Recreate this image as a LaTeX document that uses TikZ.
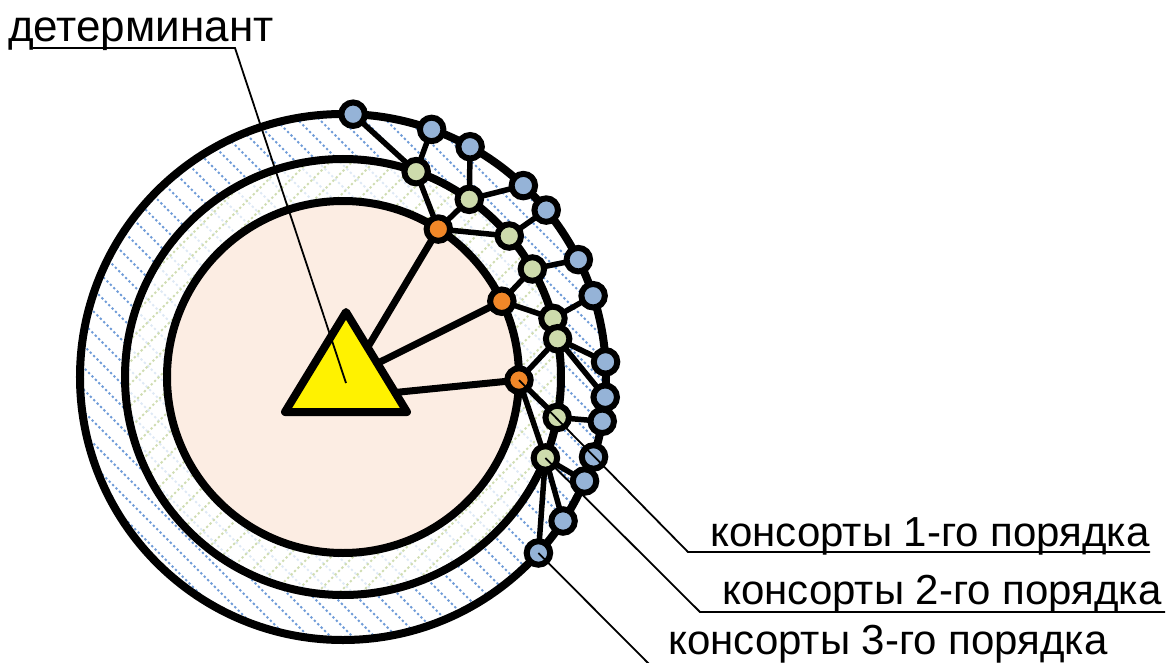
\documentclass[tikz,border=0pt]{standalone}
\usepackage{fontspec}
\setmainfont{Liberation Sans}
\definecolor{bluenode}{RGB}{149,179,215}
\definecolor{greennode}{RGB}{205,219,172}
\definecolor{orangenode}{RGB}{241,135,40}
\definecolor{peach}{RGB}{252,237,227}
\definecolor{hatchblue}{RGB}{110,155,216}
\definecolor{paleblue}{RGB}{222,233,246}
\definecolor{hatchgreen}{RGB}{208,221,178}
\pgfdeclarelayer{back}\pgfdeclarelayer{edges}\pgfdeclarelayer{front}
\pgfsetlayers{back,edges,main,front}
\tikzset{
 cons/.style={circle, draw=black, line width=6pt, minimum size=23.5pt, inner sep=0pt},
 c1/.style={cons, fill=orangenode},
 c2/.style={cons, fill=greennode},
 c3/.style={cons, fill=bluenode},
 link/.style={line width=5.5pt},
 stem/.style={line width=7pt},
 ring/.style={line width=8pt},
 leader/.style={line width=1.8pt},
 lbl/.style={font=\fontsize{42}{50}\selectfont, inner sep=0pt, anchor=base west},
 hatch/.style={line width=2pt, dash pattern=on 2.2pt off 2.6pt},
}
\begin{document}
\begin{tikzpicture}[x=1pt,y=1pt]
\useasboundingbox (-343,-285) rectangle (825,377);

% rings
\begin{pgfonlayer}{back}
 \fill[white] (-343,-285) rectangle (825,377);
 \begin{scope}
  \clip (0,0) circle (263);
  \fill[white] (0,0) circle (263);
  \foreach \k in {-580,-558,...,580} \draw[hatch, hatchblue] (\k-300,300) -- (\k+300,-300);
 \end{scope}
 \fill[white] (0,0) circle (218);
 \begin{scope}
  \clip (0,0) circle (218);
  \foreach \k in {-580,-558,...,580} \draw[hatch, paleblue] (\k-300,300) -- (\k+300,-300);
  \foreach \k in {-580,-558,...,580} \draw[hatch, hatchgreen] (\k-300,-300) -- (\k+300,300);
 \end{scope}
 \fill[peach] (0,0) circle (176);
 \draw[ring] (0,0) circle (263) (0,0) circle (218) (0,0) circle (176);
\end{pgfonlayer}

% determinant triangle
\coordinate (t1) at (3,65);
\coordinate (t2) at (-58,-35);
\coordinate (t3) at (64,-35);
\coordinate (det) at (7,0);
\coordinate (detlow) at (7,-20);
\draw[line width=8pt, line join=round, fill=yellow] (t1) -- (t2) -- (t3) -- cycle;

% consorts of 1st order
\node[c1] (o1) at (57.2:176) {};
\node[c1] (o2) at (25.5:176) {};
\node[c1] (o3) at (-1.0:176) {};
% consorts of 2nd order
\node[c2] (g1) at (70.4:218) {};
\node[c2] (g2) at (54.6:218) {};
\node[c2] (g3) at (40.3:218) {};
\node[c2] (g4) at (29.7:218) {};
\node[c2] (g5) at (15.6:218) {};
\node[c2] (g6) at (10.1:218) {};
\node[c2] (g7) at (-10.7:218) {};
\node[c2] (g8) at (-21.8:218) {};
% consorts of 3rd order
\node[c3] (b1) at (87.8:263) {};
\node[c3] (b2) at (70.3:263) {};
\node[c3] (b3) at (61.1:263) {};
\node[c3] (b4) at (46.7:263) {};
\node[c3] (b5) at (39.4:263) {};
\node[c3] (b6) at (26.5:263) {};
\node[c3] (b7) at (18.0:263) {};
\node[c3] (b8) at (3.3:263) {};
\node[c3] (b9) at (-4.4:263) {};
\node[c3] (b10) at (-9.7:263) {};
\node[c3] (b11) at (-17.7:263) {};
\node[c3] (b12) at (-23.3:263) {};
\node[c3] (b13) at (-33.2:263) {};
\node[c3] (b14) at (-42.0:263) {};

\begin{pgfonlayer}{edges}
 \draw[stem] (det) -- (o1.center) (det) -- (o2.center) (detlow) -- (o3.center);
 \draw[link] (o1.center) -- (g1.center) (o1.center) -- (g2.center) (o1.center) -- (g3.center);
 \draw[link] (o2.center) -- (g4.center) (o2.center) -- (g5.center);
 \draw[link] (o3.center) -- (g6.center) (o3.center) -- (g7.center) (o3.center) -- (g8.center);
 \draw[link] (g1.center) -- (b1.center) (g1.center) -- (b2.center);
 \draw[link] (g2.center) -- (b3.center) (g2.center) -- (b4.center);
 \draw[link] (g3.center) -- (b5.center);
 \draw[link] (g4.center) -- (b6.center);
 \draw[link] (g5.center) -- (b7.center);
 \draw[link] (g6.center) -- (b8.center) (g6.center) -- (b9.center);
 \draw[link] (g7.center) -- (b10.center);
 \draw[link] (g8.center) -- (b12.center) (g8.center) -- (b13.center) (g8.center) -- (b14.center);
\end{pgfonlayer}

% labels
\node[lbl, font=\fontsize{44}{52}\selectfont] (detlbl) at (-335,335) {детерминант};
\node[lbl] (l1) at (367,-169) {консорты 1-го порядка};
\node[lbl] (l2) at (379,-227) {консорты 2-го порядка};
\node[lbl] (l3) at (325,-277) {консорты 3-го порядка};

\coordinate (du0) at (-310,329);
\coordinate (du1) at (-108,329);
\coordinate (dend) at (3,-6);
\coordinate (u1a) at (345,-175);
\coordinate (u1b) at (807,-175);
\coordinate (u2a) at (357,-235);
\coordinate (u2b) at (822,-235);
\coordinate (u3a) at (308,-289);

\begin{pgfonlayer}{front}
 \draw[leader] (du0) -- (du1) -- (dend);
 \draw[leader] (o3.center) -- (u1a) -- (u1b);
 \draw[leader] (g8.center) -- (u2a) -- (u2b);
 \draw[leader] (b14.center) -- (u3a);
\end{pgfonlayer}
\end{tikzpicture}
\end{document}
